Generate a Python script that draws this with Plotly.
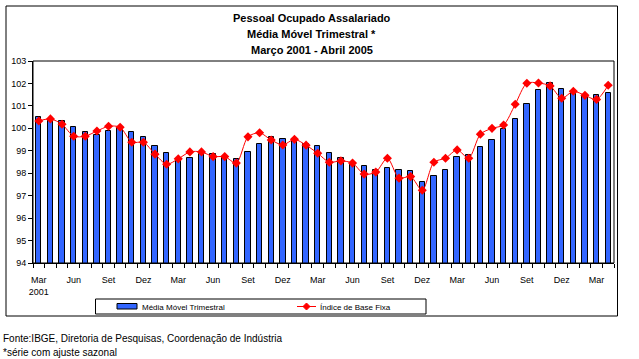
import plotly.graph_objects as go

months = ["Mar", "Abr", "Mai", "Jun", "Jul", "Ago", "Set", "Out", "Nov", "Dez",
          "Jan", "Fev", "Mar", "Abr", "Mai", "Jun", "Jul", "Ago", "Set", "Out", "Nov", "Dez",
          "Jan", "Fev", "Mar", "Abr", "Mai", "Jun", "Jul", "Ago", "Set", "Out", "Nov", "Dez",
          "Jan", "Fev", "Mar", "Abr", "Mai", "Jun", "Jul", "Ago", "Set", "Out", "Nov", "Dez",
          "Jan", "Fev", "Mar", "Abr"]

media_movel = [100.49, 100.40, 100.33, 100.05, 99.84, 99.69, 99.88, 100.03, 99.84, 99.60,
               99.22, 98.89, 98.61, 98.67, 98.86, 98.86, 98.73, 98.64, 98.93, 99.29,
               99.60, 99.51, 99.48, 99.32, 99.20, 98.89, 98.67, 98.45, 98.31, 98.15,
               98.24, 98.13, 98.09, 97.60, 97.87, 98.13, 98.71, 98.80, 99.16, 99.47,
               99.96, 100.40, 101.07, 101.69, 102.01, 101.74, 101.65, 101.46, 101.47, 101.56]

indice_base_fixa = [100.33, 100.42, 100.18, 99.65, 99.65, 99.88, 100.09, 100.05, 99.38, 99.38,
                    98.85, 98.40, 98.64, 98.95, 98.95, 98.74, 98.74, 98.45, 99.62, 99.80,
                    99.48, 99.26, 99.51, 99.25, 98.89, 98.49, 98.55, 98.45, 97.96, 98.05,
                    98.67, 97.78, 97.85, 97.24, 98.49, 98.67, 99.04, 98.67, 99.74, 100.00,
                    100.15, 101.07, 102.01, 102.02, 101.89, 101.34, 101.65, 101.47, 101.29, 101.92]

tick_labels = ["Mar<br>2001", "Jun", "Set", "Dez", "Mar", "Jun", "Set", "Dez", "Mar",
               "Jun", "Set", "Dez", "Mar", "Jun", "Set", "Dez", "Mar"]

series_names = ["Média Móvel Trimestral", "Índice de Base Fixa"]
title_lines = ["Pessoal Ocupado Assalariado", "Média Móvel Trimestral *", "Março 2001 - Abril 2005"]
footnotes = ["Fonte:IBGE, Diretoria de Pesquisas, Coordenação de Indústria", "*série com ajuste sazonal"]

x = list(range(len(months)))
FONT = "Liberation Sans, Arial, sans-serif"
BLUE = "#3366FF"
RED = "#FF0000"

fig = go.Figure()
fig.add_trace(go.Bar(
    x=x, y=media_movel, name=series_names[0],
    marker=dict(color=BLUE, line=dict(color="black", width=1)),
    width=0.46,
))
fig.add_trace(go.Scatter(
    x=x, y=indice_base_fixa, name=series_names[1], mode="lines+markers",
    line=dict(color=RED, width=1, shape="spline", smoothing=0.8),
    marker=dict(symbol="diamond", size=7, color=RED),
))

W, H = 639, 359
L, R, T, B = 33, 25, 61, 96
pw, ph = W - L - R, H - T - B

def px(xp):
    return (xp - L) / pw

def py(yp):
    return (H - B - yp) / ph

shapes = [
    # plot area box
    dict(type="rect", xref="paper", yref="paper", x0=0, x1=1, y0=0, y1=1,
         line=dict(color="black", width=1)),
    # outer chart border
    dict(type="rect", xref="paper", yref="paper", x0=px(6), x1=px(617.5), y0=py(316), y1=py(6),
         line=dict(color="black", width=1)),
    # legend box
    dict(type="rect", xref="paper", yref="paper", x0=px(95.5), x1=px(426), y0=py(314), y1=py(299),
         line=dict(color="black", width=1), fillcolor="white"),
    # legend bar swatch
    dict(type="rect", xref="paper", yref="paper", x0=px(117), x1=px(137), y0=py(309), y1=py(303.5),
         line=dict(color="black", width=1), fillcolor=BLUE),
    # legend line swatch
    dict(type="line", xref="paper", yref="paper", x0=px(297), x1=px(316), y0=py(306.5), y1=py(306.5),
         line=dict(color=RED, width=1)),
]
# legend diamond marker
cx, cy, r = 306.5, 306.5, 3.5
shapes.append(dict(type="path", xref="paper", yref="paper",
                   path=f"M {px(cx - r)} {py(cy)} L {px(cx)} {py(cy - r)} L {px(cx + r)} {py(cy)} L {px(cx)} {py(cy + r)} Z",
                   line=dict(color=RED, width=1), fillcolor=RED))

annotations = []
for i, t in enumerate(title_lines):
    annotations.append(dict(text="<b>" + t + "</b>", xref="paper", yref="paper",
                            x=px(311.5), y=py(18 + 16 * i), showarrow=False,
                            xanchor="center", yanchor="middle",
                            font=dict(family=FONT, size=11, color="black")))
for i, t in enumerate(footnotes):
    annotations.append(dict(text=t, xref="paper", yref="paper",
                            x=px(1), y=py(338 + 14 * i), showarrow=False,
                            xanchor="left", yanchor="middle",
                            font=dict(family=FONT, size=10, color="black")))
legend_text_x = [140, 318]
for name, lx in zip(series_names, legend_text_x):
    annotations.append(dict(text=name, xref="paper", yref="paper",
                            x=px(lx), y=py(307), showarrow=False,
                            xanchor="left", yanchor="middle",
                            font=dict(family=FONT, size=8, color="black")))

fig.update_layout(
    width=W, height=H,
    margin=dict(l=L, r=R, t=T, b=B, autoexpand=False),
    paper_bgcolor="white", plot_bgcolor="white",
    font=dict(family=FONT, size=9, color="black"),
    showlegend=False,
    bargap=0,
    shapes=shapes,
    annotations=annotations,
    xaxis=dict(
        range=[-0.5, len(months) - 0.5],
        tickmode="array", tickvals=list(range(0, len(months), 3)), ticktext=tick_labels,
        ticks="", showgrid=False, zeroline=False,
        showline=True, linecolor="black", linewidth=1,
        ticklabelstandoff=8,
        minor=dict(tickmode="array", tickvals=[i - 0.5 for i in range(len(months) + 1)],
                   ticks="outside", ticklen=4, tickcolor="black", showgrid=False),
        tickfont=dict(family=FONT, size=9),
    ),
    yaxis=dict(
        range=[94, 103], dtick=1, ticks="outside", ticklen=4, tickcolor="black",
        showgrid=False, zeroline=False, showline=True, linecolor="black", linewidth=1,
        tickfont=dict(family=FONT, size=9),
    ),
)

fig.write_html("out.html", config={"displayModeBar": False},
               post_script="document.body.style.margin='0';document.body.style.padding='0';")
